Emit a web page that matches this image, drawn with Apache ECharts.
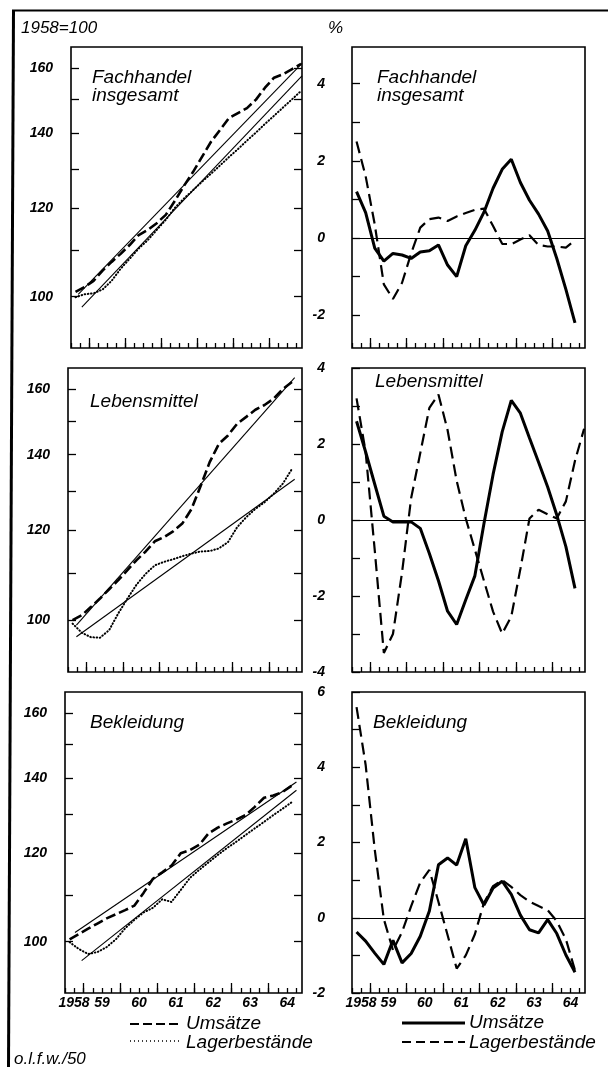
<!DOCTYPE html>
<html><head><meta charset="utf-8">
<script src="https://cdn.jsdelivr.net/npm/echarts@6/dist/echarts.min.js"></script>
<style>html,body{margin:0;padding:0;background:#fff}#c{width:608px;height:1067px}</style>
</head><body><div id="c"></div>
<script>
// ---------- data ----------
const QUARTERS = [1958.125,1958.375,1958.625,1958.875,1959.125,1959.375,1959.625,1959.875,
  1960.125,1960.375,1960.625,1960.875,1961.125,1961.375,1961.625,1961.875,
  1962.125,1962.375,1962.625,1962.875,1963.125,1963.375,1963.625,1963.875,1964.125,1964.375];
const YEARS = [1958,1959,1960,1961,1962,1963,1964];
const INDEX_TICKS = [100,110,120,130,140,150,160];
const INDEX_LABELS = [100,120,140,160];

// Fachhandel insgesamt (1958=100)
const fachUms   = [101.0,102.0,103.3,105.5,107.4,109.2,111.2,113.5,114.7,116.3,118.3,121.7,125.5,129.1,133.2,137.4,140.8,144.3,145.8,147.3,149.9,153.6,156.8,157.9,159.6,161.3];
const fachLager = [99.9,100.5,100.7,101.5,103.3,105.9,108.1,110.4,112.3,114.7,117.1,120.0,122.3,124.4,126.6,128.7,130.9,133.2,135.4,137.8,140.1,142.6,145.0,147.5,150.0,152.6];
const fachTrendUmsYears = [1958.2, 1964.4],  fachTrendUms = [100.5, 161.5];
const fachTrendLagYears = [1958.3, 1964.4],  fachTrendLag = [97.9, 157.4];
// Lebensmittel
const lebUms   = [100.0,101.0,102.7,104.5,106.5,108.5,110.7,113.0,115.0,117.4,118.4,119.8,121.7,125.3,131.3,137.9,143.1,145.6,149.1,151.2,153.4,154.9,156.9,160.0,162.3];
const lebLager = [99.3,97.5,96.6,96.5,98.0,101.4,104.5,107.5,109.9,111.8,112.6,113.2,113.9,114.5,115.0,115.1,115.7,117.2,120.8,123.3,125.4,127.1,129.3,132.0,136.0];
const lebTrendUmsYears = [1958.23, 1964.2], lebTrendUms = [99.0, 163.8];
const lebTrendLagYears = [1958.23, 1964.2], lebTrendLag = [96.7, 133.2];
// Bekleidung
const belUms   = [100.5,101.6,102.7,103.8,104.9,105.8,106.7,107.7,110.6,113.8,115.3,116.9,119.9,120.7,122.0,124.9,126.4,127.5,128.5,129.7,131.9,134.4,135.0,136.0,137.8];
const belLager = [99.9,98.5,97.5,97.9,98.9,100.5,102.8,104.6,106.2,107.2,109.1,108.5,111.2,114.0,115.9,117.7,119.5,121.2,122.8,124.5,126.2,127.9,129.7,131.4,133.2];
const belTrendUmsYears = [1958.27, 1964.25], belTrendUms = [101.9, 138.8];
const belTrendLagYears = [1958.45, 1964.25], belTrendLag = [96.2, 136.5];

// Abweichungen vom Trend in %
const fachUmsDev   = [1.2,0.66,-0.26,-0.6,-0.4,-0.44,-0.53,-0.36,-0.33,-0.18,-0.7,-1.0,-0.2,0.2,0.67,1.29,1.78,2.04,1.44,0.98,0.62,0.18,-0.53,-1.33,-2.2];
const fachLagerDev = [2.5,1.6,0.35,-1.2,-1.58,-1.16,-0.4,0.27,0.49,0.53,0.44,0.56,0.65,0.73,0.76,0.31,-0.15,-0.16,-0.04,0.07,-0.18,-0.22,-0.22,-0.25,-0.06];
const lebUmsDev    = [2.6,1.79,0.94,0.1,-0.05,-0.05,-0.05,-0.22,-0.88,-1.6,-2.4,-2.75,-2.1,-1.47,-0.09,1.2,2.32,3.15,2.81,2.16,1.52,0.87,0.13,-0.7,-1.8];
const lebLagerDev  = [3.2,1.79,-0.8,-3.5,-3.0,-1.38,0.58,1.76,2.95,3.3,2.37,1.03,0.04,-0.78,-1.6,-2.41,-2.99,-2.54,-1.29,0.04,0.27,0.15,0.04,0.49,1.56,2.4];
const belUmsDev    = [-0.38,-0.62,-0.94,-1.24,-0.6,-1.2,-0.95,-0.49,0.18,1.41,1.59,1.4,2.1,0.8,0.34,0.79,0.97,0.62,0.07,-0.32,-0.4,-0.05,-0.42,-0.99,-1.45];
const belLagerDev  = [5.6,4.06,1.81,-0.04,-0.86,-0.38,0.31,0.94,1.27,0.42,-0.46,-1.35,-1.0,-0.44,0.4,0.84,1.0,0.82,0.6,0.43,0.31,0.2,-0.09,-0.57,-1.4];

const DEV_RANGES = [[-2.85,4.95],[-4,4],[-2,6]];
const DEV_TICKS  = [[-2,-1,0,1,2,3,4],[-4,-3,-2,-1,0,1,2,3,4],[-2,-1,0,1,2,3,4,5,6]];
const DEV_LABELS = [[-2,0,2,4],[-4,-2,0,2,4],[-2,0,2,4,6]];

// ---------- layout ----------
const ROW_TOP = [47,368,692], ROW_H = [301,304,301];
const LEFT_X = [71,68,65], LEFT_R = 302, RIGHT_X = 352, RIGHT_W = 233;
const X_MIN = 1958, X_MAX = 1964.4;
const quarterTicks = [], midYearTicks = [];
for (let y = 1958; y <= 1964.3; y += 0.25) quarterTicks.push(y);
for (let y = 1958.5; y < 1964.4; y += 1) midYearTicks.push(y);

const L = v => Math.log10(v);
const zip = (xs, ys, f) => ys.map((v, i) => [xs[i], f ? f(v) : v]);
const FONT = '"Liberation Sans", Arial, sans-serif';
const labelFont = {fontFamily: FONT, fontStyle: 'italic', fontWeight: 'bold', fontSize: 14, color: '#000'};

const grids = [], xAxes = [], yAxes = [], series = [];
const idxData = [
  [fachUms, fachLager, [fachTrendUmsYears, fachTrendUms], [fachTrendLagYears, fachTrendLag]],
  [lebUms, lebLager, [lebTrendUmsYears, lebTrendUms], [lebTrendLagYears, lebTrendLag]],
  [belUms, belLager, [belTrendUmsYears, belTrendUms], [belTrendLagYears, belTrendLag]]
];
const devData = [[fachUmsDev, fachLagerDev],[lebUmsDev, lebLagerDev],[belUmsDev, belLagerDev]];

function addPanel(left, top, width, height, isIndex, row) {
  const g = grids.length;
  grids.push({left, top, width, height, show: true, borderColor: '#000', borderWidth: 1.6,
    backgroundColor: 'transparent', containLabel: false, outerBoundsMode: 'none'});
  const bottomRow = row === 2;
  xAxes.push({gridIndex: g, type: 'value', min: X_MIN, max: X_MAX, position: 'bottom',
    axisLine: {show: false, onZero: false}, splitLine: {show: false},
    axisTick: {show: true, inside: true, length: 5, customValues: quarterTicks, lineStyle: {color: '#000', width: 1.3}},
    axisLabel: Object.assign({show: bottomRow, customValues: YEARS, margin: 3,
      formatter: v => v === 1958 ? '{f|1958}' : String(v).slice(2),
      rich: {f: Object.assign({}, labelFont, {padding: [0, 0, 0, 18]})}}, labelFont)});
  xAxes.push({gridIndex: g, type: 'value', min: X_MIN, max: X_MAX, position: 'bottom',
    axisLine: {show: false, onZero: false}, splitLine: {show: false}, axisLabel: {show: false},
    axisTick: {show: true, inside: true, length: 10, customValues: midYearTicks, lineStyle: {color: '#000', width: 1.3}}});
  if (isIndex) {
    const yBase = {gridIndex: g, type: 'value', min: L(90), max: L(167), splitLine: {show: false}, axisLine: {show: false, onZero: false},
      axisTick: {show: true, inside: true, length: 8, customValues: INDEX_TICKS.map(L), lineStyle: {color: '#000', width: 1.3}}};
    yAxes.push(Object.assign({}, yBase, {position: 'left',
      axisLabel: Object.assign({show: true, margin: 18, customValues: INDEX_LABELS.map(L),
        formatter: v => String(Math.round(Math.pow(10, v)))}, labelFont)}));
    yAxes.push(Object.assign({}, yBase, {position: 'right', axisLabel: {show: false}}));
  } else {
    const [mn, mx] = DEV_RANGES[row];
    yAxes.push({gridIndex: g, type: 'value', min: mn, max: mx, position: 'left', splitLine: {show: false},
      axisLine: {show: false, onZero: false},
      axisTick: {show: true, inside: true, length: 8, customValues: DEV_TICKS[row], lineStyle: {color: '#000', width: 1.3}},
      axisLabel: Object.assign({show: true, margin: 27, customValues: DEV_LABELS[row],
        formatter: v => v < 0 ? '-' + Math.abs(v) : String(v)}, labelFont)});
    yAxes.push({gridIndex: g, type: 'value', min: mn, max: mx, position: 'right', show: false});
  }
  return g;
}

function line(g, data, lineStyle, extra) {
  series.push(Object.assign({type: 'line', xAxisIndex: 2 * g, yAxisIndex: 2 * g, data,
    symbol: 'none', showSymbol: false, silent: true, animation: false,
    lineStyle: Object.assign({color: '#000'}, lineStyle)}, extra || {}));
}

for (let r = 0; r < 3; r++) {
  // index panel (ratio scale)
  const gi = addPanel(LEFT_X[r], ROW_TOP[r], LEFT_R - LEFT_X[r], ROW_H[r], true, r);
  const [ums, lag, tU, tL] = idxData[r];
  line(gi, zip(tU[0], tU[1], L), {width: 1.1, type: 'solid'});
  line(gi, zip(tL[0], tL[1], L), {width: 1.1, type: 'solid'});
  line(gi, zip(QUARTERS, lag, L), {width: 2, type: [0.6, 2.6], cap: 'round'});
  line(gi, zip(QUARTERS, ums, L), {width: 2.6, type: [10, 4]});
  // deviation panel
  const gd = addPanel(RIGHT_X, ROW_TOP[r], RIGHT_W, ROW_H[r], false, r);
  const [du, dl] = devData[r];
  line(gd, zip(QUARTERS, dl), {width: 2.2, type: [12, 6]}, {
    markLine: {silent: true, symbol: 'none', animation: false, label: {show: false},
      lineStyle: {color: '#000', width: 1.2, type: 'solid'}, data: [{yAxis: 0}]}});
  line(gd, zip(QUARTERS, du), {width: 3, type: 'solid'});
}

// ---------- decoration: frame, titles, legend ----------
const txt = (text, x, y, size, extra) => ({type: 'text', silent: true, style: Object.assign({
  text, x, y, fill: '#000', font: 'italic ' + size + 'px ' + FONT, align: 'left', verticalAlign: 'middle'}, extra || {})});
const ln = (x1, y1, x2, y2, w, dash) => ({type: 'line', silent: true, shape: {x1, y1, x2, y2},
  style: {stroke: '#000', lineWidth: w, lineDash: dash || null}});

const graphic = [
  ln(12, 10.5, 608, 10.5, 2),
  ln(13.5, 10, 8.5, 1067, 3),
  txt('1958=100', 21, 28, 17),
  txt('%', 328, 28, 17),
  txt('Fachhandel', 92, 78, 19), txt('insgesamt', 92, 96, 19),
  txt('Fachhandel', 377, 78, 19), txt('insgesamt', 377, 96, 19),
  txt('Lebensmittel', 90, 402, 19), txt('Lebensmittel', 375, 382, 19),
  txt('Bekleidung', 90, 723, 19), txt('Bekleidung', 373, 723, 19),
  ln(130, 1024, 182, 1024, 2.2, [9, 4]), txt('Umsätze', 186, 1024, 19),
  ln(130, 1041, 182, 1041, 1.6, [1, 3]), txt('Lagerbestände', 186, 1043, 19),
  ln(402, 1023, 465, 1023, 3), txt('Umsätze', 469, 1023, 19),
  ln(402, 1042, 465, 1042, 2, [9, 5]), txt('Lagerbestände', 469, 1043, 19),
  txt('o.l.f.w./50', 14, 1059, 17)
];

const chart = echarts.init(document.getElementById('c'), null, {renderer: 'canvas'});
chart.setOption({
  animation: false,
  backgroundColor: '#fff',
  grid: grids, xAxis: xAxes, yAxis: yAxes, series, graphic
});
</script></body></html>
